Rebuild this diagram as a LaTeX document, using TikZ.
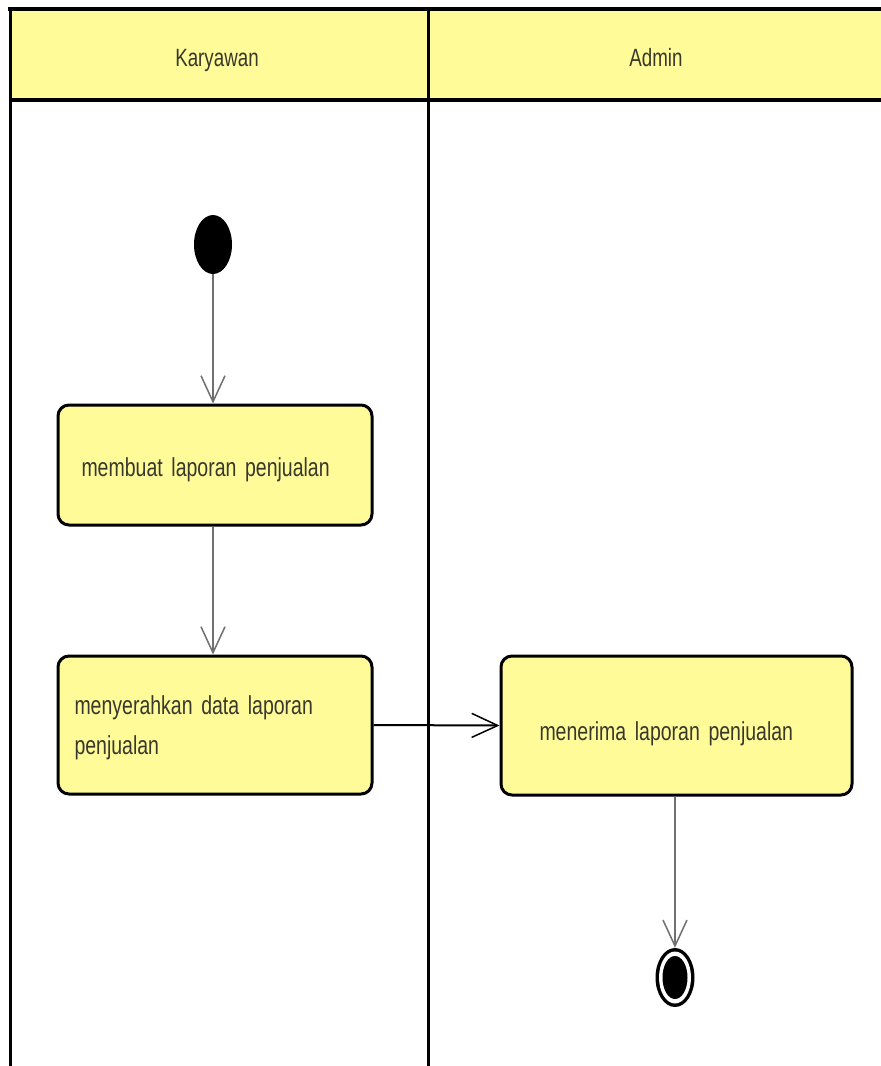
\documentclass[tikz,border=0pt]{standalone}
\usepackage{fontspec}
\newfontfamily\diafont{Liberation Sans}[FakeStretch=0.75]
\usetikzlibrary{arrows.meta,shapes.geometric}
\definecolor{laneyellow}{HTML}{FFFB99}
\definecolor{txtcol}{HTML}{38382C}
\definecolor{flowgray}{HTML}{707070}
\newcommand{\lowertext}[2]{\raisebox{-#1}[\height][\depth]{#2}}
\newcommand{\boxfont}{\diafont\fontsize{26}{40}\selectfont\spaceskip=4.5pt plus 1pt minus 1pt\relax}
\begin{document}
\begin{tikzpicture}[x=1pt,y=-1pt,
  actbox/.style={draw=black, line width=3pt, fill=laneyellow, rounded corners=11pt,
    anchor=north west, align=left, font=\boxfont,
    text=txtcol, inner ysep=0pt},
  lanetitle/.style={font=\diafont\fontsize{25}{28}\selectfont, text=txtcol, inner sep=0pt, anchor=base},
  flow/.style={draw=flowgray, line width=1.5pt,
    -{Straight Barb[length=26pt,width=24pt,line width=1.5pt]}},
  startnode/.style={ellipse, fill=black, minimum width=38pt, minimum height=59pt, inner sep=0pt},
]
\useasboundingbox (0,0) rectangle (881,1066);
\fill[white] (0,0) rectangle (881,1066);
% swimlanes
\fill[laneyellow] (10,9) rectangle (881,100);
\draw[line width=4pt] (8,9) -- (881,9);
\draw[line width=4pt] (10,100) -- (881,100);
\draw[line width=3pt] (10,8) -- (10,1066);
\draw[line width=3pt] (428,8) -- (428,1066);
\node[lanetitle] (lk) at (217,66) {Karyawan};
\node[lanetitle] (la) at (656,66) {Admin};
% nodes
\node[startnode] (start) at (213,244.5) {};
\node[actbox, minimum width=314pt, minimum height=120pt, inner xsep=23.5pt, text width=267pt]
  (b1) at (56.5,403.5) {\lowertext{5pt}{membuat laporan penjualan}};
\node[actbox, minimum width=314pt, minimum height=138pt, inner xsep=16.5pt, text width=281pt]
  (b2) at (56.5,654.5) {\lowertext{3pt}{menyerahkan data laporan}\\\lowertext{3pt}{penjualan}};
\node[actbox, minimum width=351pt, minimum height=139pt, inner xsep=38.5pt, text width=274pt]
  (b3) at (499.5,654.5) {\lowertext{8pt}{menerima laporan penjualan}};
\node[startnode, minimum width=39pt] (endn) at (675,977.5) {};
\fill[white] (endn.center) ellipse [x radius=16pt, y radius=26pt];
\fill[black] (endn.center) ellipse [x radius=12.5pt, y radius=21.5pt];
% connectors
\draw[flow] (start.south) -- (start.south |- b1.north);
\draw[flow] (b1.south -| start.south) -- (start.south |- b2.north);
\draw[flow, draw=black, line width=2pt] (b2.east) -- (b3.west);
\draw[flow] (endn.north |- b3.south) -- (endn.north);
\end{tikzpicture}
\end{document}
